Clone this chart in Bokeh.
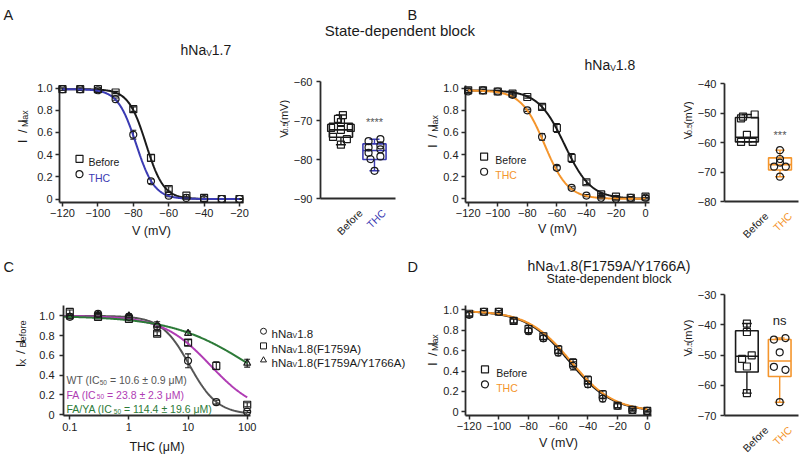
import numpy as np
from bokeh.plotting import figure
from bokeh.models import Range1d, FixedTicker, Label, Whisker, TeeHead, ColumnDataSource
from bokeh.layouts import column, row
from bokeh.embed import file_html
from bokeh.resources import INLINE

# ---------------- data ----------------
# Panel A : hNav1.7 steady-state inactivation
V_A = [-120, -110, -100, -90, -80, -70, -60, -50, -40, -30, -20]
A_BEFORE = [0.99, 0.99, 0.99, 0.96, 0.81, 0.37, 0.09, 0.03, 0.01, 0.0, 0.0]
A_BEFORE_ERR = [0.01, 0.01, 0.01, 0.01, 0.02, 0.03, 0.02, 0.01, 0.01, 0.005, 0.005]
A_THC = [0.99, 0.99, 0.98, 0.90, 0.58, 0.16, 0.03, 0.01, 0.0, 0.0, 0.0]
A_THC_ERR = [0.01, 0.01, 0.01, 0.01, 0.04, 0.02, 0.01, 0.005, 0.005, 0.005, 0.005]
A_FIT_VHALF = [-72.8, -78.4]
A_FIT_K = [5.0, 5.2]
A_FIT_TOP = [0.99, 0.99]

# Panel A : V0.5 box plot
CATS = ["Before", "THC"]
A_PTS_BEFORE = [-68.6, -69.6, -70.4, -71.9, -71.9, -72.4, -74.2, -74.8, -76.2]
A_PTS_THC = [-74.8, -75.3, -76.4, -76.9, -77.4, -78.3, -79.2, -79.9, -82.9]
A_Q1 = [-74.3, -80.0]
A_MED = [-72.4, -77.7]
A_Q3 = [-70.7, -76.0]
A_LO = [-76.2, -82.9]
A_HI = [-68.6, -74.8]

# Panel B : hNav1.8
V_B = [-120, -110, -100, -90, -80, -70, -60, -50, -40, -30, -20, -10, 0]
B_BEFORE = [0.98, 0.98, 0.97, 0.95, 0.92, 0.83, 0.64, 0.37, 0.15, 0.04, 0.02, 0.01, 0.02]
B_BEFORE_ERR = [0.02, 0.01, 0.01, 0.01, 0.01, 0.02, 0.04, 0.04, 0.02, 0.01, 0.01, 0.01, 0.01]
B_THC = [0.97, 0.98, 0.97, 0.94, 0.80, 0.56, 0.28, 0.10, 0.03, 0.01, 0.0, 0.01, 0.01]
B_THC_ERR = [0.01, 0.01, 0.01, 0.01, 0.01, 0.03, 0.02, 0.01, 0.01, 0.01, 0.005, 0.005, 0.005]
B_FIT_VHALF = [-54.8, -68.3]
B_FIT_K = [8.9, 7.9]
B_FIT_TOP = [0.98, 0.98]

B_PTS_BEFORE = [-50.5, -51.2, -51.8, -57.4, -59.8, -59.8]
B_PTS_THC = [-62.6, -65.6, -66.8, -68.2, -68.2, -71.6]
B_Q1 = [-59.8, -69.3]
B_MED = [-58.2, -67.5]
B_Q3 = [-51.5, -65.2]
B_LO = [-59.8, -71.6]
B_HI = [-50.5, -62.6]

# Panel C : concentration-response
C_CONC = [0.1, 0.3, 1, 3, 10, 30, 100]
C_WT = [0.99, 1.02, 0.99, 0.89, 0.545, 0.126, 0.03]
C_WT_ERR = [0.01, 0.02, 0.02, 0.03, 0.07, 0.02, 0.01]
C_FA = [1.04, 0.99, 0.97, 0.82, 0.73, 0.494, 0.10]
C_FA_ERR = [0.02, 0.02, 0.02, 0.02, 0.03, 0.04, 0.02]
C_CONC_FAYA = [0.1, 0.3, 1, 3, 10, 100]
C_FAYA = [0.99, 1.01, 1.00, 0.91, 0.824, 0.521]
C_FAYA_ERR = [0.01, 0.02, 0.02, 0.03, 0.02, 0.04]
C_IC50 = [10.6, 23.8, 114.4]
C_IC50_SEM = [0.9, 2.3, 19.6]
C_HILL = [1.83, 1.08, 0.65]
C_NAMES = ["WT", "FA", "FA/YA"]
C_LEGEND = ["1.8", "1.8(F1759A)", "1.8(F1759A/Y1766A)"]

# Panel D : hNav1.8(F1759A/Y1766A)
V_D = [-120, -110, -100, -90, -80, -70, -60, -50, -40, -30, -20, -10, 0]
D_BEFORE = [0.96, 0.98, 0.98, 0.89, 0.81, 0.74, 0.61, 0.48, 0.31, 0.17, 0.06, 0.02, 0.01]
D_BEFORE_ERR = [0.02, 0.01, 0.01, 0.02, 0.04, 0.03, 0.04, 0.04, 0.04, 0.04, 0.02, 0.01, 0.01]
D_THC = [0.95, 0.98, 0.98, 0.89, 0.79, 0.72, 0.58, 0.45, 0.27, 0.13, 0.06, 0.02, 0.01]
D_THC_ERR = [0.02, 0.01, 0.01, 0.02, 0.03, 0.03, 0.03, 0.04, 0.03, 0.03, 0.02, 0.01, 0.01]
D_FIT_VHALF = [-52.5, -51.5]
D_FIT_K = [14.5, 14.5]
D_FIT_TOP = [0.99, 0.99]

D_PTS_BEFORE = [-39.6, -42.4, -50.1, -51.3, -53.8, -62.6]
D_PTS_THC = [-44.4, -44.9, -49.1, -53.9, -54.9, -65.6]
D_Q1 = [-55.6, -57.1]
D_MED = [-50.4, -52.0]
D_Q3 = [-42.0, -44.9]
D_LO = [-62.6, -65.6]
D_HI = [-39.6, -44.4]

# ---------------- styles ----------------
FONT = "Liberation Sans"
INK = "#1a1a1a"
AX = "#2b2b2b"
BLUE = "#3b3bb3"
ORANGE = "#f4952c"
PURPLE = "#b03cb4"
GREEN = "#2c7a38"
GREY = "#555555"
MINUS = "\u2212"
EN = "\u2002"

AW = {' ': 278, EN: 500, '(': 333, ')': 333, '*': 389, '-': 333, '.': 278, '/': 278, '=': 584,
      '\u00b1': 584, '\u03bc': 576, '\u2212': 584, 'A': 667, 'B': 667, 'C': 722, 'D': 722,
      'F': 611, 'I': 278, 'M': 833, 'N': 722, 'S': 667, 'T': 611, 'V': 667, 'W': 944,
      'X': 667, 'Y': 667, 'a': 556, 'b': 556, 'c': 500, 'd': 556, 'e': 556, 'f': 278,
      'h': 556, 'k': 500, 'l': 222, 'm': 833, 'n': 556, 'o': 556, 'p': 556, 'r': 333,
      's': 500, 't': 278, 'v': 500, 'x': 500}


def tw(s, size):
    return sum(AW.get(c, 556) for c in s) * size / 1000.0


class Conv:
    """maps page pixels (inside a figure's frame) to that figure's data coordinates"""
    def __init__(self, fl, ft, fr, fb, xr, yr, xlog=False):
        self.fl, self.ft, self.fr, self.fb = fl, ft, fr, fb
        self.xr, self.yr, self.xlog = xr, yr, xlog

    def __call__(self, rx, ry):
        t = (rx - self.fl) / (self.fr - self.fl)
        if self.xlog:
            a, b = np.log10(self.xr[0]), np.log10(self.xr[1])
            x = 10 ** (a + t * (b - a))
        else:
            x = self.xr[0] + t * (self.xr[1] - self.xr[0])
        u = (self.fb - ry) / (self.fb - self.ft)
        y = self.yr[0] + u * (self.yr[1] - self.yr[0])
        return float(x), float(y)


def rng(va, pa, vb, pb, p_start, p_end):
    s = (vb - va) / (pb - pa)
    return (va + (p_start - pa) * s, va + (p_end - pa) * s)


def make_fig(box, frame, xr, yr, xlog=False, axes=True):
    x0, y0, x1, y1 = box
    fl, ft, fr, fb = frame
    kw = {}
    if not axes:
        kw = dict(x_axis_location=None, y_axis_location=None)
    p = figure(width=x1 - x0, height=y1 - y0, x_range=Range1d(*xr), y_range=Range1d(*yr),
               x_axis_type="log" if xlog else "linear", toolbar_location=None,
               output_backend="svg", min_border_left=fl - x0, min_border_right=x1 - fr,
               min_border_top=ft - y0, min_border_bottom=y1 - fb, **kw)
    p.outline_line_color = None
    p.xgrid.grid_line_color = None
    p.ygrid.grid_line_color = None
    p.background_fill_color = "white"
    p.border_fill_color = "white"
    return p, Conv(fl, ft, fr, fb, xr, yr, xlog)


def canvas(x0, y0, x1, y1):
    return make_fig((x0, y0, x1, y1), (x0, y0, x1, y1), (x0, x1), (y1, y0), axes=False)


def style_axes(p, xticks, xlabels, yticks, ylabels, xs_off=2, ys_off=3):
    for ax in list(p.xaxis) + list(p.yaxis):
        ax.axis_line_width = 1.8
        ax.axis_line_color = AX
        ax.major_tick_line_color = AX
        ax.major_tick_line_width = 1.5
        ax.major_tick_out = 4
        ax.major_tick_in = 0
        ax.minor_tick_line_color = None
        ax.major_label_text_font = FONT
        ax.major_label_text_font_size = "11px"
        ax.major_label_text_color = "#222222"
        ax.axis_label_text_font = FONT
        ax.axis_label_text_font_style = "normal"
        ax.axis_label_text_color = INK
        ax.axis_label_text_font_size = "12.5px"
    p.xaxis.major_label_standoff = xs_off
    p.yaxis.major_label_standoff = ys_off
    if xticks is not None:
        p.xaxis.ticker = FixedTicker(ticks=xticks)
        p.xaxis.major_label_overrides = dict(zip(xticks, xlabels))
    else:
        p.xaxis.ticker = FixedTicker(ticks=[])
        p.xaxis.major_tick_out = 0
        p.xaxis.major_label_standoff = 0
        p.xaxis.major_label_text_font_size = "0px"
    p.yaxis.ticker = FixedTicker(ticks=yticks)
    p.yaxis.major_label_overrides = dict(zip(yticks, ylabels))


def lab(p, conv, text, rx, ry, size, color=INK, align="left", baseline="alphabetic", angle=0.0):
    x, y = conv(rx, ry)
    p.add_layout(Label(x=x, y=y, text=text, text_font=FONT, text_font_size=f"{size:.1f}px",
                       text_color=color, text_align=align, text_baseline=baseline, angle=angle))


def rich(p, conv, segs, rx, ry, size, color=INK, rot=False, anchor="left", sub_scale=0.68,
         sub_drop=0.27):
    sizes = [size * sub_scale if s else size for _, s in segs]
    widths = [tw(t, fs) for (t, _), fs in zip(segs, sizes)]
    total = sum(widths)
    adv = 0.0 if anchor == "left" else (-total / 2 if anchor == "center" else -total)
    for (t, s), w, fs in zip(segs, widths, sizes):
        lead = len(t) - len(t.lstrip(" "))
        off = adv + tw(" " * lead, fs)
        d = sub_drop * size if s else 0.0
        if rot:
            px, py = rx + d, ry - off
        else:
            px, py = rx + off, ry + d
        lab(p, conv, t.strip(" "), px, py, fs, color, angle=np.pi / 2 if rot else 0.0)
        adv += w


def errbars(p, x, y, e, color=INK, head=6):
    src = ColumnDataSource(dict(x=list(x), lo=[a - b for a, b in zip(y, e)],
                                hi=[a + b for a, b in zip(y, e)]))
    p.add_layout(Whisker(source=src, base="x", lower="lo", upper="hi", dimension="height",
                         line_color=color, line_width=1.1,
                         lower_head=TeeHead(size=head, line_color=color, line_width=1.1),
                         upper_head=TeeHead(size=head, line_color=color, line_width=1.1)))


def pts(p, x, y, marker, size=7, color=INK, lw=1.2):
    r = p.scatter(x, y, marker=marker, size=size, line_color=color, fill_color=None, line_width=lw)
    r.level = "overlay"
    return r


def boltz(v, vh, k, top):
    return top / (1.0 + np.exp((v - vh) / k))


def hill(c, ic50, n):
    return 1.0 / (1.0 + (c / ic50) ** n)


def iv_panel(box, frame, xanch, yanch, V, yb, eb, yt, et, vh, k, top, tcolor, xticks, leg, xl_stand):
    fl, ft, fr, fb = frame
    xr = rng(*xanch, fl, fr)
    yr = rng(*yanch, fb, ft)
    p, cv = make_fig(box, frame, xr, yr)
    style_axes(p, xticks, [("0" if t == 0 else MINUS + str(abs(t))) for t in xticks],
               [0, 0.2, 0.4, 0.6, 0.8, 1.0], ["0", "0.2", "0.4", "0.6", "0.8", "1.0"])
    p.xaxis.axis_label = "V (mV)"
    p.xaxis.axis_label_standoff = xl_stand
    vv = np.linspace(V[0], V[-1], 300)
    p.line(vv, boltz(vv, vh[0], k[0], top[0]), line_color=INK, line_width=2)
    p.line(vv, boltz(vv, vh[1], k[1], top[1]), line_color=tcolor, line_width=2)
    errbars(p, V, yb, eb)
    errbars(p, V, yt, et)
    pts(p, V, yb, "square")
    pts(p, V, yt, "circle")
    lx, ly1, ly2, tx = leg
    x1, y1 = cv(lx, ly1)
    x2, y2 = cv(lx, ly2)
    pts(p, [x1], [y1], "square")
    pts(p, [x2], [y2], "circle")
    lab(p, cv, CATS[0], tx, ly1 + 3.8, 10.5, INK)
    lab(p, cv, CATS[1], tx, ly2 + 3.8, 10.5, tcolor)
    return p


def box_panel(box, frame, xanch, yanch, yticks, pb, pt, q1, med, q3, lo, hi, tcolor, jit_b, jit_t,
              sig, sig_y, sig_size, sig_color, ys_off):
    fl, ft, fr, fb = frame
    xr = rng(*xanch, fl, fr)
    yr = rng(*yanch, fb, ft)
    p, cv = make_fig(box, frame, xr, yr)
    style_axes(p, None, None, yticks, [MINUS + str(abs(t)) for t in yticks], ys_off=ys_off)
    xs = [i + 1 for i in range(len(CATS))]
    cols = [INK, tcolor]
    bw = 0.69
    cap = 0.3
    for i, xc in enumerate(xs):
        c = cols[i]
        p.quad(left=[xc - bw / 2], right=[xc + bw / 2], bottom=[q1[i]], top=[q3[i]],
               fill_color=None, line_color=c, line_width=1.6)
        p.segment([xc - bw / 2], [med[i]], [xc + bw / 2], [med[i]], line_color=c, line_width=1.6)
        p.segment([xc, xc], [q3[i], q1[i]], [xc, xc], [hi[i], lo[i]], line_color=c, line_width=1.4)
        p.segment([xc - cap / 2, xc - cap / 2], [hi[i], lo[i]], [xc + cap / 2, xc + cap / 2],
                  [hi[i], lo[i]], line_color=c, line_width=1.4)
    pts(p, [xs[0] + j / 34.0 for j in jit_b], pb, "square")
    pts(p, [xs[1] + j / 34.0 for j in jit_t], pt, "circle")
    p.add_layout(Label(x=xs[1], y=sig_y, text=sig, text_font=FONT, text_font_size=f"{sig_size}px",
                       text_color=sig_color, text_align="center", text_baseline="middle"))
    # page-x of each category, used by the caption canvas below the plot
    cat_px = [fl + (xc - xr[0]) / (xr[1] - xr[0]) * (fr - fl) for xc in xs]
    return p, cat_px


def cat_canvas(box, cat_px, axis_y, tcolor):
    c, cv = canvas(*box)
    cols = [INK, tcolor]
    for i, px in enumerate(cat_px):
        lab(c, cv, CATS[i], px + 9, axis_y + 12.5, 10.5, cols[i], align="right",
            baseline="middle", angle=np.pi / 4)
    return c


def ylab_canvas(box, segs, bx, cy, size, sub_scale=0.68, sub_drop=0.2):
    c, cv = canvas(*box)
    rich(c, cv, segs, bx, cy, size, INK, rot=True, anchor="center", sub_scale=sub_scale,
         sub_drop=sub_drop)
    return c


IMAX = [("I" + EN + "/" + EN + "I", False), ("Max", True)]
V05 = [("V", False), ("0.5", True), (" (mV)", False)]

# ---------------- top strip ----------------
s1, c1 = canvas(0, 0, 800, 72)
lab(s1, c1, "A", 3, 14.5, 14.5)
lab(s1, c1, "B", 407, 14.5, 14.5)
lab(s1, c1, "State-dependent block", 399.4, 29.5, 15, align="center")
rich(s1, c1, [("hNa", False), ("V", True), ("1.7", False)], 180, 49.5, 14, sub_scale=0.6,
     sub_drop=0.2)
rich(s1, c1, [("hNa", False), ("V", True), ("1.8", False)], 584, 64.5, 14, sub_scale=0.6,
     sub_drop=0.2)

# ---------------- row 1 (y 72..245) ----------------
yA1 = ylab_canvas((0, 72, 34, 245), IMAX, 22, 137, 13)
pA1 = iv_panel((34, 72, 262, 245), (59, 78, 243, 202), (-120, 62, -20, 239), (0, 198.3, 1, 80.7),
               V_A, A_BEFORE, A_BEFORE_ERR, A_THC, A_THC_ERR, A_FIT_VHALF, A_FIT_K, A_FIT_TOP, BLUE,
               [-120, -100, -80, -60, -40, -20], (79, 155.7, 172, 88), 4)
yA2 = ylab_canvas((262, 72, 290, 245), V05, 283, 127, 11)
pA2, catA = box_panel((290, 72, 400, 205), (319, 81, 395, 198), (1, 339.7, 2, 373.7),
                      (-90, 198, -60, 81), [-90, -80, -70, -60], A_PTS_BEFORE, A_PTS_THC,
                      A_Q1, A_MED, A_Q3, A_LO, A_HI, BLUE,
                      [2, -3, 0, -10, 10, 0, -8, 6, 0], [6, -6, 6, -6, 6, -6, 6, -4, 0],
                      "****", -70.3, 11, GREY, 4)
cA2 = cat_canvas((290, 205, 400, 245), catA, 198, BLUE)
yB1 = ylab_canvas((400, 72, 440, 245), IMAX, 432, 144, 13)
pB1 = iv_panel((440, 72, 660, 245), (464, 85, 649, 204), (-120, 466.7, 0, 645), (0, 200.3, 1, 87.7),
               V_B, B_BEFORE, B_BEFORE_ERR, B_THC, B_THC_ERR, B_FIT_VHALF, B_FIT_K, B_FIT_TOP,
               ORANGE, [-120, -100, -80, -60, -40, -20, 0], (482.7, 157.3, 172.7, 494), 2)
yB2 = ylab_canvas((660, 72, 694, 245), V05, 687, 129, 11)
pB2, catB = box_panel((694, 72, 800, 208), (722, 83, 798, 201), (1, 745, 2, 779),
                      (-80, 201, -40, 83), [-80, -70, -60, -50, -40], B_PTS_BEFORE, B_PTS_THC,
                      B_Q1, B_MED, B_Q3, B_LO, B_HI, ORANGE,
                      [8, -4, -6, 0, -6, 6], [0, 0, 0, -6, 6, 0], "***", -57.6, 11, GREY, 4)
cB2 = cat_canvas((694, 208, 800, 245), catB, 201, ORANGE)

# ---------------- middle strip (y 245..285) ----------------
s2, c2 = canvas(0, 245, 800, 285)
lab(s2, c2, "C", 3, 266, 14.5)
lab(s2, c2, "D", 407, 266, 14.5)
rich(s2, c2, [("hNa", False), ("V", True), ("1.8(F1759A/Y1766A)", False)], 527, 265, 14,
     sub_scale=0.6, sub_drop=0.2)
lab(s2, c2, "State-dependent block", 608.5, 278.5, 12.5, align="center")

# ---------------- row 2 (y 285..458) ----------------
yC = ylab_canvas((0, 285, 30, 458), [("I", False), ("X", True), (EN + "/" + EN + "I", False),
                                      ("Before", True)], 19.5, 353, 13.5)
cx0, cx1 = 63, 250
lx = (np.log10(0.1) + (cx0 - 69.3) / 59.13, np.log10(100) + (cx1 - 246.7) / 59.13)
xrC = (10 ** lx[0], 10 ** lx[1])
yrC = rng(0, 414, 1, 302.7, 415, 291)
pC, cC = make_fig((30, 285, 258, 458), (cx0, 291, cx1, 415), xrC, yrC, xlog=True)
style_axes(pC, [0.1, 1, 10, 100], ["0.1", "1", "10", "100"],
           [0, 0.2, 0.4, 0.6, 0.8, 1.0], ["0", "0.2", "0.4", "0.6", "0.8", "1.0"], xs_off=3, ys_off=5)
pC.xaxis.axis_label = "THC (\u03bcM)"
pC.xaxis.axis_label_standoff = 6
cc = np.logspace(np.log10(xrC[0]), np.log10(100), 300)
for ic, n, col in zip(C_IC50, C_HILL, [GREY, PURPLE, GREEN]):
    pC.line(cc, hill(cc, ic, n), line_color=col, line_width=2)
errbars(pC, C_CONC, C_WT, C_WT_ERR)
errbars(pC, C_CONC, C_FA, C_FA_ERR)
errbars(pC, C_CONC_FAYA, C_FAYA, C_FAYA_ERR)
pts(pC, C_CONC, C_WT, "circle")
pts(pC, C_CONC, C_FA, "square")
pts(pC, C_CONC_FAYA, C_FAYA, "triangle")
for name, ic, sem, by, col in zip(C_NAMES, C_IC50, C_IC50_SEM, [375, 391.5, 407.5],
                                  [GREY, PURPLE, GREEN]):
    rich(pC, cC, [(name + " (IC", False), ("50", True), (f" = {ic} \u00b1 {sem} \u03bcM)", False)],
         66, by, 10.5, col, sub_scale=0.62, sub_drop=0.24)

cL, cLv = canvas(258, 285, 415, 458)
for ry, mk, txt in zip([325.5, 348.5, 371.0], ["circle", "square", "triangle"], C_LEGEND):
    mx, my = cLv(263, ry)
    pts(cL, [mx], [my], mk, size=6, lw=1.0)
    rich(cL, cLv, [("hNa", False), ("V", True), (txt, False)], 271, ry + 4.2, 11.5, INK,
         sub_scale=0.6, sub_drop=0.2)

yD1 = ylab_canvas((415, 285, 440, 458), IMAX, 432, 360, 13)
pD1 = iv_panel((440, 285, 675, 458), (463, 305, 651, 418), (-120, 466.7, 0, 646.7),
               (0, 414.3, 1, 309.3), V_D, D_BEFORE, D_BEFORE_ERR, D_THC, D_THC_ERR, D_FIT_VHALF,
               D_FIT_K, D_FIT_TOP, ORANGE, [-120, -100, -80, -60, -40, -20, 0],
               (482.7, 370.7, 386, 494), 3)
yD2 = ylab_canvas((675, 285, 694, 458), V05, 687, 343, 11)
pD2, catD = box_panel((694, 285, 800, 422), (722, 294, 798, 415), (1, 745, 2, 778.7),
                      (-70, 415, -30, 294), [-70, -60, -50, -40, -30], D_PTS_BEFORE, D_PTS_THC,
                      D_Q1, D_MED, D_Q3, D_LO, D_HI, ORANGE,
                      [0, 0, 5, -5, 0, 0], [6, -6, 0, -6, 6, 0], "ns", -38.5, 13, INK, 4)
cD2 = cat_canvas((694, 422, 800, 458), catD, 415, ORANGE)

row1 = row(yA1, pA1, yA2, column(pA2, cA2), yB1, pB1, yB2, column(pB2, cB2))
row2 = row(yC, pC, cL, yD1, pD1, yD2, column(pD2, cD2))
layout = column(s1, row1, s2, row2)
open("out.html", "w").write(file_html(layout, INLINE))
